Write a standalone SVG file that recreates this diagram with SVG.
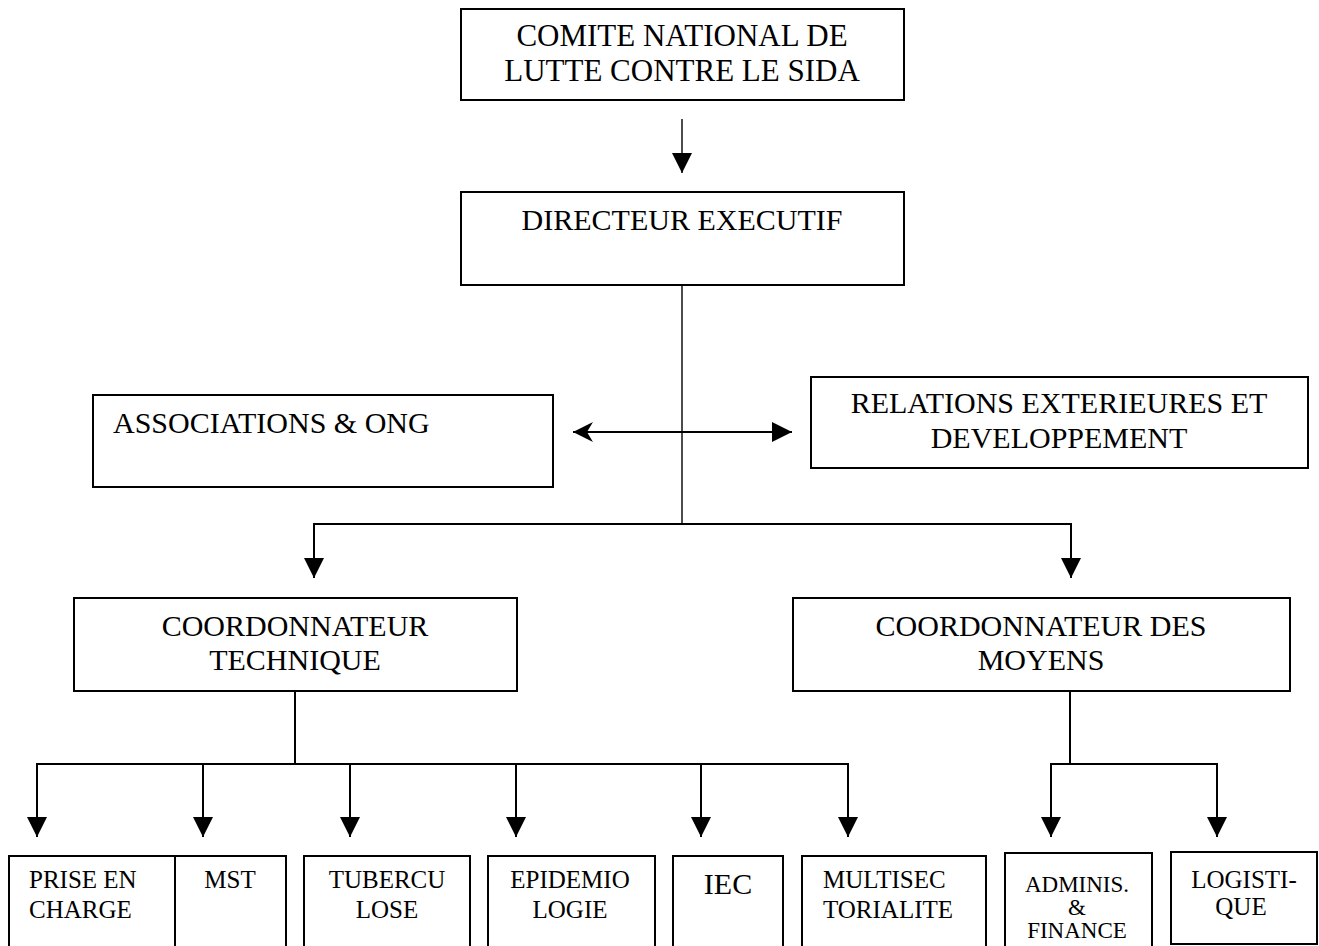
<svg xmlns="http://www.w3.org/2000/svg" width="1319" height="946" viewBox="0 0 1319 946">
<defs>
<style>
.box{fill:#fff;stroke:#000;stroke-width:2}
.t{font-family:"Liberation Serif","Times New Roman",serif;fill:#000}
.l{font-size:30px}
.s{font-size:25px}
.c{text-anchor:middle}
.ln{fill:none;stroke:#000;stroke-width:2}
.thin{fill:none;stroke:#000;stroke-width:1.4}
</style>
<marker id="ah" markerUnits="userSpaceOnUse" markerWidth="20" markerHeight="20" refX="20" refY="10" orient="auto">
<path d="M0,0 L20,10 L0,20 z" fill="#000"/>
</marker>
<marker id="st" markerUnits="userSpaceOnUse" markerWidth="20" markerHeight="20" refX="20" refY="10" orient="auto-start-reverse">
<path d="M0,0 L20,10 L0,20 L6,10 z" fill="#000"/>
</marker>
</defs>
<rect width="1319" height="946" fill="#fff"/>

<g id="connectors">
<line class="thin" x1="682" y1="119" x2="682" y2="173" marker-end="url(#ah)"/>
<line class="thin" x1="682" y1="285" x2="682" y2="524"/>
<line class="ln" x1="573" y1="432" x2="792" y2="432" marker-start="url(#st)" marker-end="url(#ah)"/>
<path class="ln" d="M314,578 V524 H1071 V578"/>
<line class="ln" x1="314" y1="560" x2="314" y2="578" marker-end="url(#ah)"/>
<line class="ln" x1="1071" y1="560" x2="1071" y2="578" marker-end="url(#ah)"/>
<line class="ln" x1="295" y1="691" x2="295" y2="764"/>
<path class="ln" d="M37,837 V764 H848 V837"/>
<line class="ln" x1="37" y1="820" x2="37" y2="837" marker-end="url(#ah)"/>
<line class="ln" x1="203" y1="764" x2="203" y2="837" marker-end="url(#ah)"/>
<line class="ln" x1="350" y1="764" x2="350" y2="837" marker-end="url(#ah)"/>
<line class="ln" x1="516" y1="764" x2="516" y2="837" marker-end="url(#ah)"/>
<line class="ln" x1="701" y1="764" x2="701" y2="837" marker-end="url(#ah)"/>
<line class="ln" x1="848" y1="820" x2="848" y2="837" marker-end="url(#ah)"/>
<line class="ln" x1="1070" y1="691" x2="1070" y2="764"/>
<path class="ln" d="M1051,837 V764 H1217 V837"/>
<line class="ln" x1="1051" y1="820" x2="1051" y2="837" marker-end="url(#ah)"/>
<line class="ln" x1="1217" y1="820" x2="1217" y2="837" marker-end="url(#ah)"/>
</g>

<g id="comite">
<rect class="box" x="461" y="9" width="443" height="91"/>
<text class="t c" style="font-size:31px" x="682" y="46">COMITE NATIONAL DE</text>
<text class="t c" style="font-size:31px" x="682" y="81">LUTTE CONTRE LE SIDA</text>
</g>
<g id="directeur">
<rect class="box" x="461" y="192" width="443" height="93"/>
<text class="t l c" x="682" y="230">DIRECTEUR EXECUTIF</text>
</g>
<g id="associations">
<rect class="box" x="93" y="395" width="460" height="92"/>
<text class="t l" x="113" y="433">ASSOCIATIONS &amp; ONG</text>
</g>
<g id="relations">
<rect class="box" x="811" y="377" width="497" height="91"/>
<text class="t l c" x="1059" y="413">RELATIONS EXTERIEURES ET</text>
<text class="t l c" x="1059" y="448">DEVELOPPEMENT</text>
</g>
<g id="coord-technique">
<rect class="box" x="74" y="598" width="443" height="93"/>
<text class="t l c" x="295" y="636">COORDONNATEUR</text>
<text class="t l c" x="295" y="670">TECHNIQUE</text>
</g>
<g id="coord-moyens">
<rect class="box" x="793" y="598" width="497" height="93"/>
<text class="t l c" x="1041" y="636">COORDONNATEUR DES</text>
<text class="t l c" x="1041" y="670">MOYENS</text>
</g>

<g id="prise-en-charge">
<rect class="box" x="9" y="856" width="166" height="110"/>
<text class="t s" x="29" y="888">PRISE EN</text>
<text class="t s" x="29" y="918">CHARGE</text>
</g>
<g id="mst">
<rect class="box" x="175" y="856" width="111" height="110"/>
<text class="t s c" x="230" y="888">MST</text>
</g>
<g id="tuberculose">
<rect class="box" x="304" y="856" width="166" height="110"/>
<text class="t s c" x="387" y="888">TUBERCU</text>
<text class="t s c" x="387" y="918">LOSE</text>
</g>
<g id="epidemiologie">
<rect class="box" x="488" y="856" width="167" height="110"/>
<text class="t s c" x="570" y="888">EPIDEMIO</text>
<text class="t s c" x="570" y="918">LOGIE</text>
</g>
<g id="iec">
<rect class="box" x="673" y="856" width="110" height="110"/>
<text class="t l c" x="728" y="894">IEC</text>
</g>
<g id="multisectorialite">
<rect class="box" x="802" y="856" width="184" height="110"/>
<text class="t s" x="823" y="888">MULTISEC</text>
<text class="t s" x="823" y="918">TORIALITE</text>
</g>
<g id="administration-finance">
<rect class="box" x="1005" y="853" width="147" height="110"/>
<text class="t c" style="font-size:23px" x="1077" y="892">ADMINIS.</text>
<text class="t c" style="font-size:23px" x="1077" y="915">&amp;</text>
<text class="t c" style="font-size:23px" x="1077" y="938">FINANCE</text>
</g>
<g id="logistique">
<rect class="box" x="1171" y="852" width="146" height="92"/>
<text class="t s c" x="1244" y="888">LOGISTI-</text>
<text class="t s c" x="1241" y="915">QUE</text>
</g>
</svg>
